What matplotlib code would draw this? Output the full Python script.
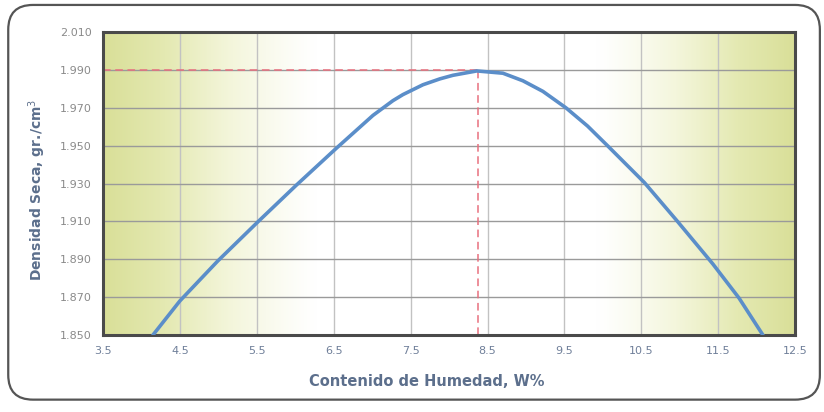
import numpy as np
import matplotlib
matplotlib.use("Agg")
import matplotlib.pyplot as plt
from matplotlib.patches import FancyBboxPatch
from matplotlib.colors import LinearSegmentedColormap

# values
humedad = [4.15, 4.50, 4.99, 5.52, 6.01, 6.53, 7.01, 7.27, 7.40, 7.66, 7.88, 8.05, 8.36,
           8.70, 8.96, 9.22, 9.52, 9.80, 10.06, 10.54, 10.97, 11.43, 11.77, 12.08]
densidad = [1.850, 1.868, 1.889, 1.910, 1.929, 1.9485, 1.966, 1.9738, 1.977, 1.9822, 1.9853, 1.9872, 1.9895,
            1.9883, 1.9843, 1.9787, 1.970, 1.9604, 1.950, 1.9305, 1.910, 1.8875, 1.8695, 1.850]
w_optima = 8.38
d_maxima = 1.990
x_ticks = [3.5, 4.5, 5.5, 6.5, 7.5, 8.5, 9.5, 10.5, 11.5, 12.5]
y_ticks = [1.850, 1.870, 1.890, 1.910, 1.930, 1.950, 1.970, 1.990, 2.010]

fig = plt.figure(figsize=(8.24, 4.12), dpi=100)
fig.patch.set_facecolor("white")

# rounded outer frame
frame = FancyBboxPatch((0.010, 0.03), 0.985, 0.958, boxstyle="round,pad=0,rounding_size=0.03",
                       transform=fig.transFigure, fill=False, edgecolor="#555555", lw=1.6,
                       mutation_aspect=2)
fig.patches.append(frame)

ax = fig.add_axes([0.125, 0.187, 0.840, 0.735])
ax.set_xlim(3.5, 12.5)
ax.set_ylim(1.850, 2.010)

# yellow-green gradient background at both sides
cmap = LinearSegmentedColormap.from_list("bg", ["#ffffff", "#f4f6dc", "#e4e9b2", "#d9df98"])
xs = np.linspace(3.5, 12.5, 400)
left = np.clip((6.3 - xs) / 2.8, 0, 1)
right = np.clip((xs - 9.9) / 2.6, 0, 1)
grad = np.maximum(left, right) ** 1.2
ax.imshow(grad[np.newaxis, :], extent=[3.5, 12.5, 1.850, 2.010], aspect="auto",
          cmap=cmap, vmin=0, vmax=1, zorder=0)

ax.set_xticks(x_ticks)
ax.set_yticks(y_ticks)
ax.set_xticklabels(["%.1f" % v for v in x_ticks])
ax.set_yticklabels(["%.3f" % v for v in y_ticks])
ax.grid(True, axis="y", color="#9a9a9a", lw=1.0, zorder=1)
ax.grid(True, axis="x", color="#c2c2c2", lw=1.0, zorder=1)
ax.tick_params(axis="both", length=0, pad=8, labelsize=8)
ax.tick_params(axis="x", colors="#6f7f99")
ax.tick_params(axis="y", colors="#8a8a8a")

# red dashed reference lines at optimum
ax.plot([3.5, w_optima], [d_maxima, d_maxima], color="#e8707e", lw=1.1, ls=(0, (5, 3)), zorder=2)
ax.plot([w_optima, w_optima], [1.850, d_maxima], color="#e8707e", lw=1.1, ls=(0, (5, 3)), zorder=2)

ax.plot(humedad, densidad, color="#5b8ec9", lw=2.6, zorder=3,
        solid_capstyle="round", solid_joinstyle="round")

for s in ax.spines.values():
    s.set_color("#4a4a4a")
    s.set_linewidth(2.2)

ax.set_xlabel("Contenido de Humedad, W%", fontsize=10.5, fontweight="bold",
              color="#5c6f8c")
ax.set_ylabel("Densidad Seca, gr./cm$^3$", fontsize=10, fontweight="bold",
              color="#5c6f8c")
ax.xaxis.set_label_coords(0.468, -0.13)
ax.yaxis.set_label_coords(-0.08, 0.48)

fig.savefig("out.png", dpi=100)
